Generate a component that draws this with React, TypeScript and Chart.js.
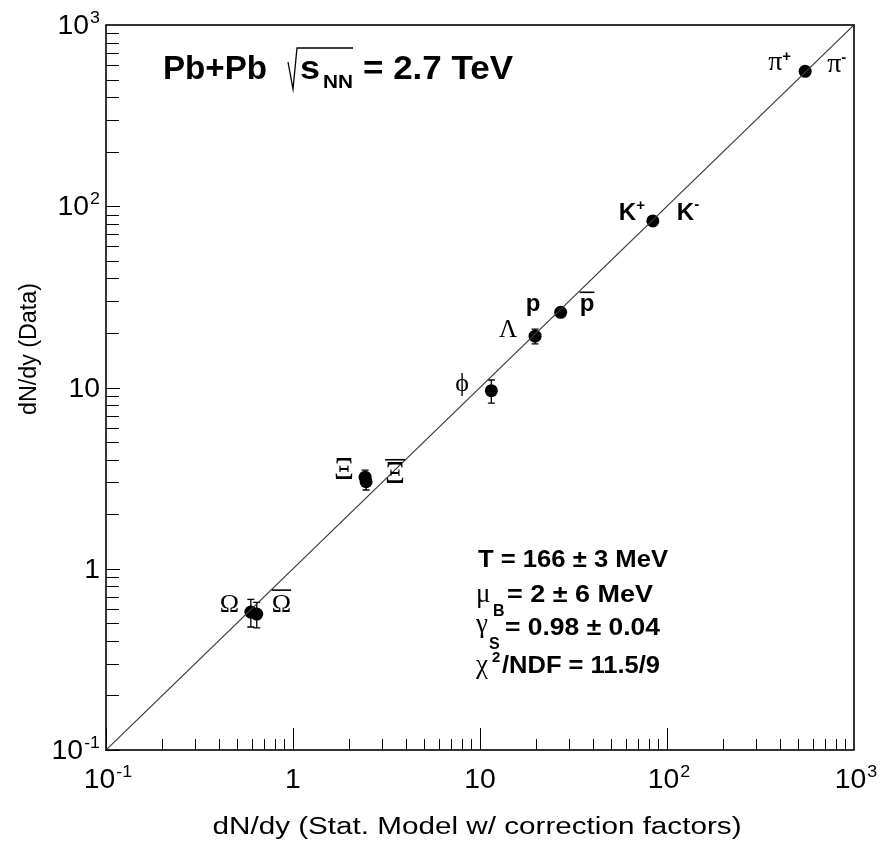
import React, { useEffect, useRef } from "react";
import { Chart, registerables } from "chart.js";
Chart.register(...registerables);

// ---------------- data ----------------
const particles = ["pi", "K", "p", "Lambda", "phi", "Xi", "XiBar", "Omega", "OmegaBar"];
const modelYield = [548, 84, 27.0, 19.7, 11.5, 2.43, 2.46, 0.595, 0.64];
const dataYield = [555, 83, 26.0, 19.2, 9.6, 3.2, 3.02, 0.577, 0.562];
const dataErr = [15, 2.5, 1.0, 1.8, 1.4, 0.3, 0.3, 0.1, 0.09];

const diagonalX = [0.1, 1000];
const diagonalY = [0.1, 1000];

const axisMin = 0.1;
const axisMax = 1000;
const majorTickValues = [0.1, 1, 10, 100, 1000];
const tickBase = ["10", "1", "10", "10", "10"];
const tickExp = ["-1", "", "", "2", "3"];

const xTitle = "dN/dy (Stat. Model w/ correction factors)";
const yTitle = "dN/dy (Data)";
const statLines = [
  { sym: "", sub: "", sup: "", rest: "T = 166 \u00b1 3 MeV" },
  { sym: "\u03bc", sub: "B", sup: "", rest: "= 2 \u00b1 6 MeV" },
  { sym: "\u03b3", sub: "S", sup: "", rest: "= 0.98 \u00b1 0.04" },
  { sym: "\u03c7", sub: "", sup: "2", rest: "/NDF = 11.5/9" },
];

// ---------------- style / layout ----------------
const SANS = '"Liberation Sans", Arial, Helvetica, sans-serif';
const SERIF = '"Liberation Serif", "DejaVu Serif", "Times New Roman", serif';
const bold = (s: number) => `bold ${s}px ${SANS}`;
const reg = (s: number) => `${s}px ${SANS}`;
const serif = (s: number) => `${s}px ${SERIF}`;

type Part = { t: string; font: string; dy?: number; bar?: number; dx?: number };
// particle label specs: index into data, pixel offset (left, baseline) from marker centre
const labelSpecs: { i: number; dx: number; dy: number; parts: Part[] }[] = [
  { i: 0, dx: -37, dy: -1, parts: [{ t: "\u03c0", font: serif(28) }, { t: "+", font: bold(15), dy: -9 }] },
  { i: 0, dx: 22, dy: 1, parts: [{ t: "\u03c0", font: serif(28) }, { t: "-", font: bold(15), dy: -10 }] },
  { i: 1, dx: -34, dy: -1, parts: [{ t: "K", font: bold(24) }, { t: "+", font: bold(15), dy: -10 }] },
  { i: 1, dx: 24, dy: -1, parts: [{ t: "K", font: bold(24) }, { t: "-", font: bold(15), dy: -11 }] },
  { i: 2, dx: -35, dy: -1, parts: [{ t: "p", font: bold(24) }] },
  { i: 2, dx: 19, dy: -1, parts: [{ t: "p", font: bold(24), bar: 19 }] },
  { i: 3, dx: -36, dy: 1, parts: [{ t: "\u039b", font: serif(25) }] },
  { i: 4, dx: -36, dy: 0, parts: [{ t: "\u03d5", font: serif(26) }] },
  { i: 5, dx: -31, dy: 2, parts: [{ t: "\u039e", font: serif(31) }] },
  { i: 6, dx: 19, dy: 1, parts: [{ t: "\u039e", font: serif(31), bar: 23 }] },
  { i: 7, dx: -31, dy: 0, parts: [{ t: "\u03a9", font: serif(26) }] },
  { i: 8, dx: 15, dy: -2, parts: [{ t: "\u03a9", font: serif(26), bar: 22 }] },
];

function drawParts(
  ctx: CanvasRenderingContext2D,
  parts: Part[],
  x: number,
  y: number,
  align: "left" | "center" | "right" = "left",
  opts: { width?: number; sx?: number } = {}
) {
  let W = 0;
  const ws: number[] = [];
  for (const p of parts) {
    ctx.font = p.font;
    const w = ctx.measureText(p.t).width;
    ws.push(w);
    W += w + (p.dx || 0);
  }
  const s = opts.width ? opts.width / W : opts.sx || 1;
  const x0 = align === "left" ? x : align === "center" ? x - (W * s) / 2 : x - W * s;
  ctx.save();
  ctx.translate(x0, y);
  ctx.scale(s, 1);
  ctx.textAlign = "left";
  ctx.textBaseline = "alphabetic";
  ctx.fillStyle = "#000";
  let cx = 0;
  parts.forEach((p, k) => {
    cx += p.dx || 0;
    ctx.font = p.font;
    ctx.fillText(p.t, cx, p.dy || 0);
    if (p.bar) {
      ctx.strokeStyle = "#000";
      ctx.lineWidth = 1.6;
      ctx.beginPath();
      ctx.moveTo(cx, (p.dy || 0) - p.bar);
      ctx.lineTo(cx + ws[k], (p.dy || 0) - p.bar);
      ctx.stroke();
    }
    cx += ws[k];
  });
  ctx.restore();
}

const decorPlugin = {
  id: "rootDecor",
  beforeDatasetsDraw(chart: any) {
    const ctx: CanvasRenderingContext2D = chart.ctx;
    const xs = chart.scales.x;
    const ys = chart.scales.y;
    // error bars
    ctx.save();
    ctx.strokeStyle = "#000";
    ctx.lineWidth = 1.3;
    for (let i = 0; i < dataYield.length; i++) {
      const px = xs.getPixelForValue(modelYield[i]);
      const y1 = ys.getPixelForValue(dataYield[i] + dataErr[i]);
      const y2 = ys.getPixelForValue(dataYield[i] - dataErr[i]);
      ctx.beginPath();
      ctx.moveTo(px, y1);
      ctx.lineTo(px, y2);
      ctx.moveTo(px - 3.5, y1);
      ctx.lineTo(px + 3.5, y1);
      ctx.moveTo(px - 3.5, y2);
      ctx.lineTo(px + 3.5, y2);
      ctx.stroke();
    }
    ctx.restore();
  },
  afterDraw(chart: any) {
    const ctx: CanvasRenderingContext2D = chart.ctx;
    const { left, right, top, bottom } = chart.chartArea;
    const xs = chart.scales.x;
    const ys = chart.scales.y;
    ctx.save();
    // ticks
    ctx.strokeStyle = "#000";
    ctx.lineWidth = 1;
    ctx.beginPath();
    for (let d = 0; d < majorTickValues.length - 1; d++) {
      const base = majorTickValues[d];
      for (let m = 1; m <= 9; m++) {
        const v = base * m;
        const px = Math.round(xs.getPixelForValue(v)) + 0.5;
        const lenX = m === 1 ? 22 : 11;
        ctx.moveTo(px, bottom);
        ctx.lineTo(px, bottom - lenX);
        const py = Math.round(ys.getPixelForValue(v)) + 0.5;
        const lenY = m === 1 ? 14 : 13;
        ctx.moveTo(left, py);
        ctx.lineTo(left + lenY, py);
      }
    }
    ctx.stroke();
    // frame
    ctx.lineWidth = 1.6;
    ctx.strokeRect(left, top, right - left, bottom - top);

    // tick labels
    majorTickValues.forEach((v, k) => {
      const parts: Part[] = [{ t: tickBase[k], font: reg(27) }];
      if (tickExp[k]) parts.push({ t: tickExp[k], font: reg(17), dy: -11, dx: 1 });
      drawParts(ctx, parts, xs.getPixelForValue(v) + (tickExp[k] ? 2 : 0), bottom + 38, "center", { sx: 1.05 });
      drawParts(ctx, parts, left - 6, ys.getPixelForValue(v) + 9, "right", { sx: 1.05 });
    });

    // axis titles
    drawParts(ctx, [{ t: xTitle, font: reg(23) }], (left + right) / 2 - 3, 834, "center", { width: 529 });
    ctx.save();
    ctx.translate(36, 349);
    ctx.rotate(-Math.PI / 2);
    drawParts(ctx, [{ t: yTitle, font: reg(23) }], 0, 0, "center", { width: 132 });
    ctx.restore();

    // title
    drawParts(ctx, [{ t: "Pb+Pb", font: bold(34) }], 163, 79, "left", { width: 104 });
    ctx.lineWidth = 1.3;
    ctx.beginPath();
    ctx.moveTo(288, 62);
    ctx.lineTo(293, 89);
    ctx.lineTo(297, 48);
    ctx.lineTo(353, 48);
    ctx.stroke();
    drawParts(ctx, [{ t: "s", font: bold(34) }], 300, 79, "left", { width: 20 });
    drawParts(ctx, [{ t: "NN", font: bold(19) }], 323, 88, "left", { width: 30 });
    drawParts(ctx, [{ t: "= 2.7 TeV", font: bold(34) }], 363, 79, "left", { width: 150 });

    // statistics box
    const statBase = [567, 602, 635, 673];
    const restLeft = [478, 507, 505, 502];
    const restWidth = [190, 146, 155, 158];
    statLines.forEach((ln, k) => {
      if (ln.sym) drawParts(ctx, [{ t: ln.sym, font: serif(27) }], 476, statBase[k] - (k === 2 ? 3 : 0));
      if (ln.sub) drawParts(ctx, [{ t: ln.sub, font: bold(16) }], k === 1 ? 493 : 489, statBase[k] + 14);
      if (ln.sup) drawParts(ctx, [{ t: ln.sup, font: bold(15) }], 492, statBase[k] - 11);
      drawParts(ctx, [{ t: ln.rest, font: bold(23) }], restLeft[k], statBase[k], "left", { width: restWidth[k] });
    });

    // particle labels
    labelSpecs.forEach((ls) => {
      const px = xs.getPixelForValue(modelYield[ls.i]);
      const py = ys.getPixelForValue(dataYield[ls.i]);
      drawParts(ctx, ls.parts, px + ls.dx, py + ls.dy, "left");
    });
    ctx.restore();
  },
};

export default function App() {
  const ref = useRef<HTMLCanvasElement>(null);
  useEffect(() => {
    document.body.style.margin = "0";
    const canvas = ref.current!;
    const chart = new Chart(canvas, {
      type: "scatter",
      data: {
        datasets: [
          {
            type: "line",
            label: "y = x",
            data: diagonalX.map((x, i) => ({ x, y: diagonalY[i] })),
            borderColor: "#3a3a3a",
            borderWidth: 1.2,
            pointRadius: 0,
            fill: false,
          } as any,
          {
            label: "particles",
            data: modelYield.map((x, i) => ({ x, y: dataYield[i] })),
            backgroundColor: "#000",
            borderColor: "#000",
            borderWidth: 0,
            pointRadius: 6.5,
          },
        ],
      },
      options: {
        responsive: false,
        animation: false,
        events: [],
        layout: { padding: { left: 106, top: 25, right: 26, bottom: 93 } },
        plugins: { legend: { display: false }, tooltip: { enabled: false } },
        scales: {
          x: { type: "logarithmic", min: axisMin, max: axisMax, display: false },
          y: { type: "logarithmic", min: axisMin, max: axisMax, display: false },
        },
      },
      plugins: [decorPlugin],
    });
    return () => chart.destroy();
  }, []);
  return (
    <canvas ref={ref} width={880} height={843} style={{ display: "block", width: 880, height: 843 }} />
  );
}
